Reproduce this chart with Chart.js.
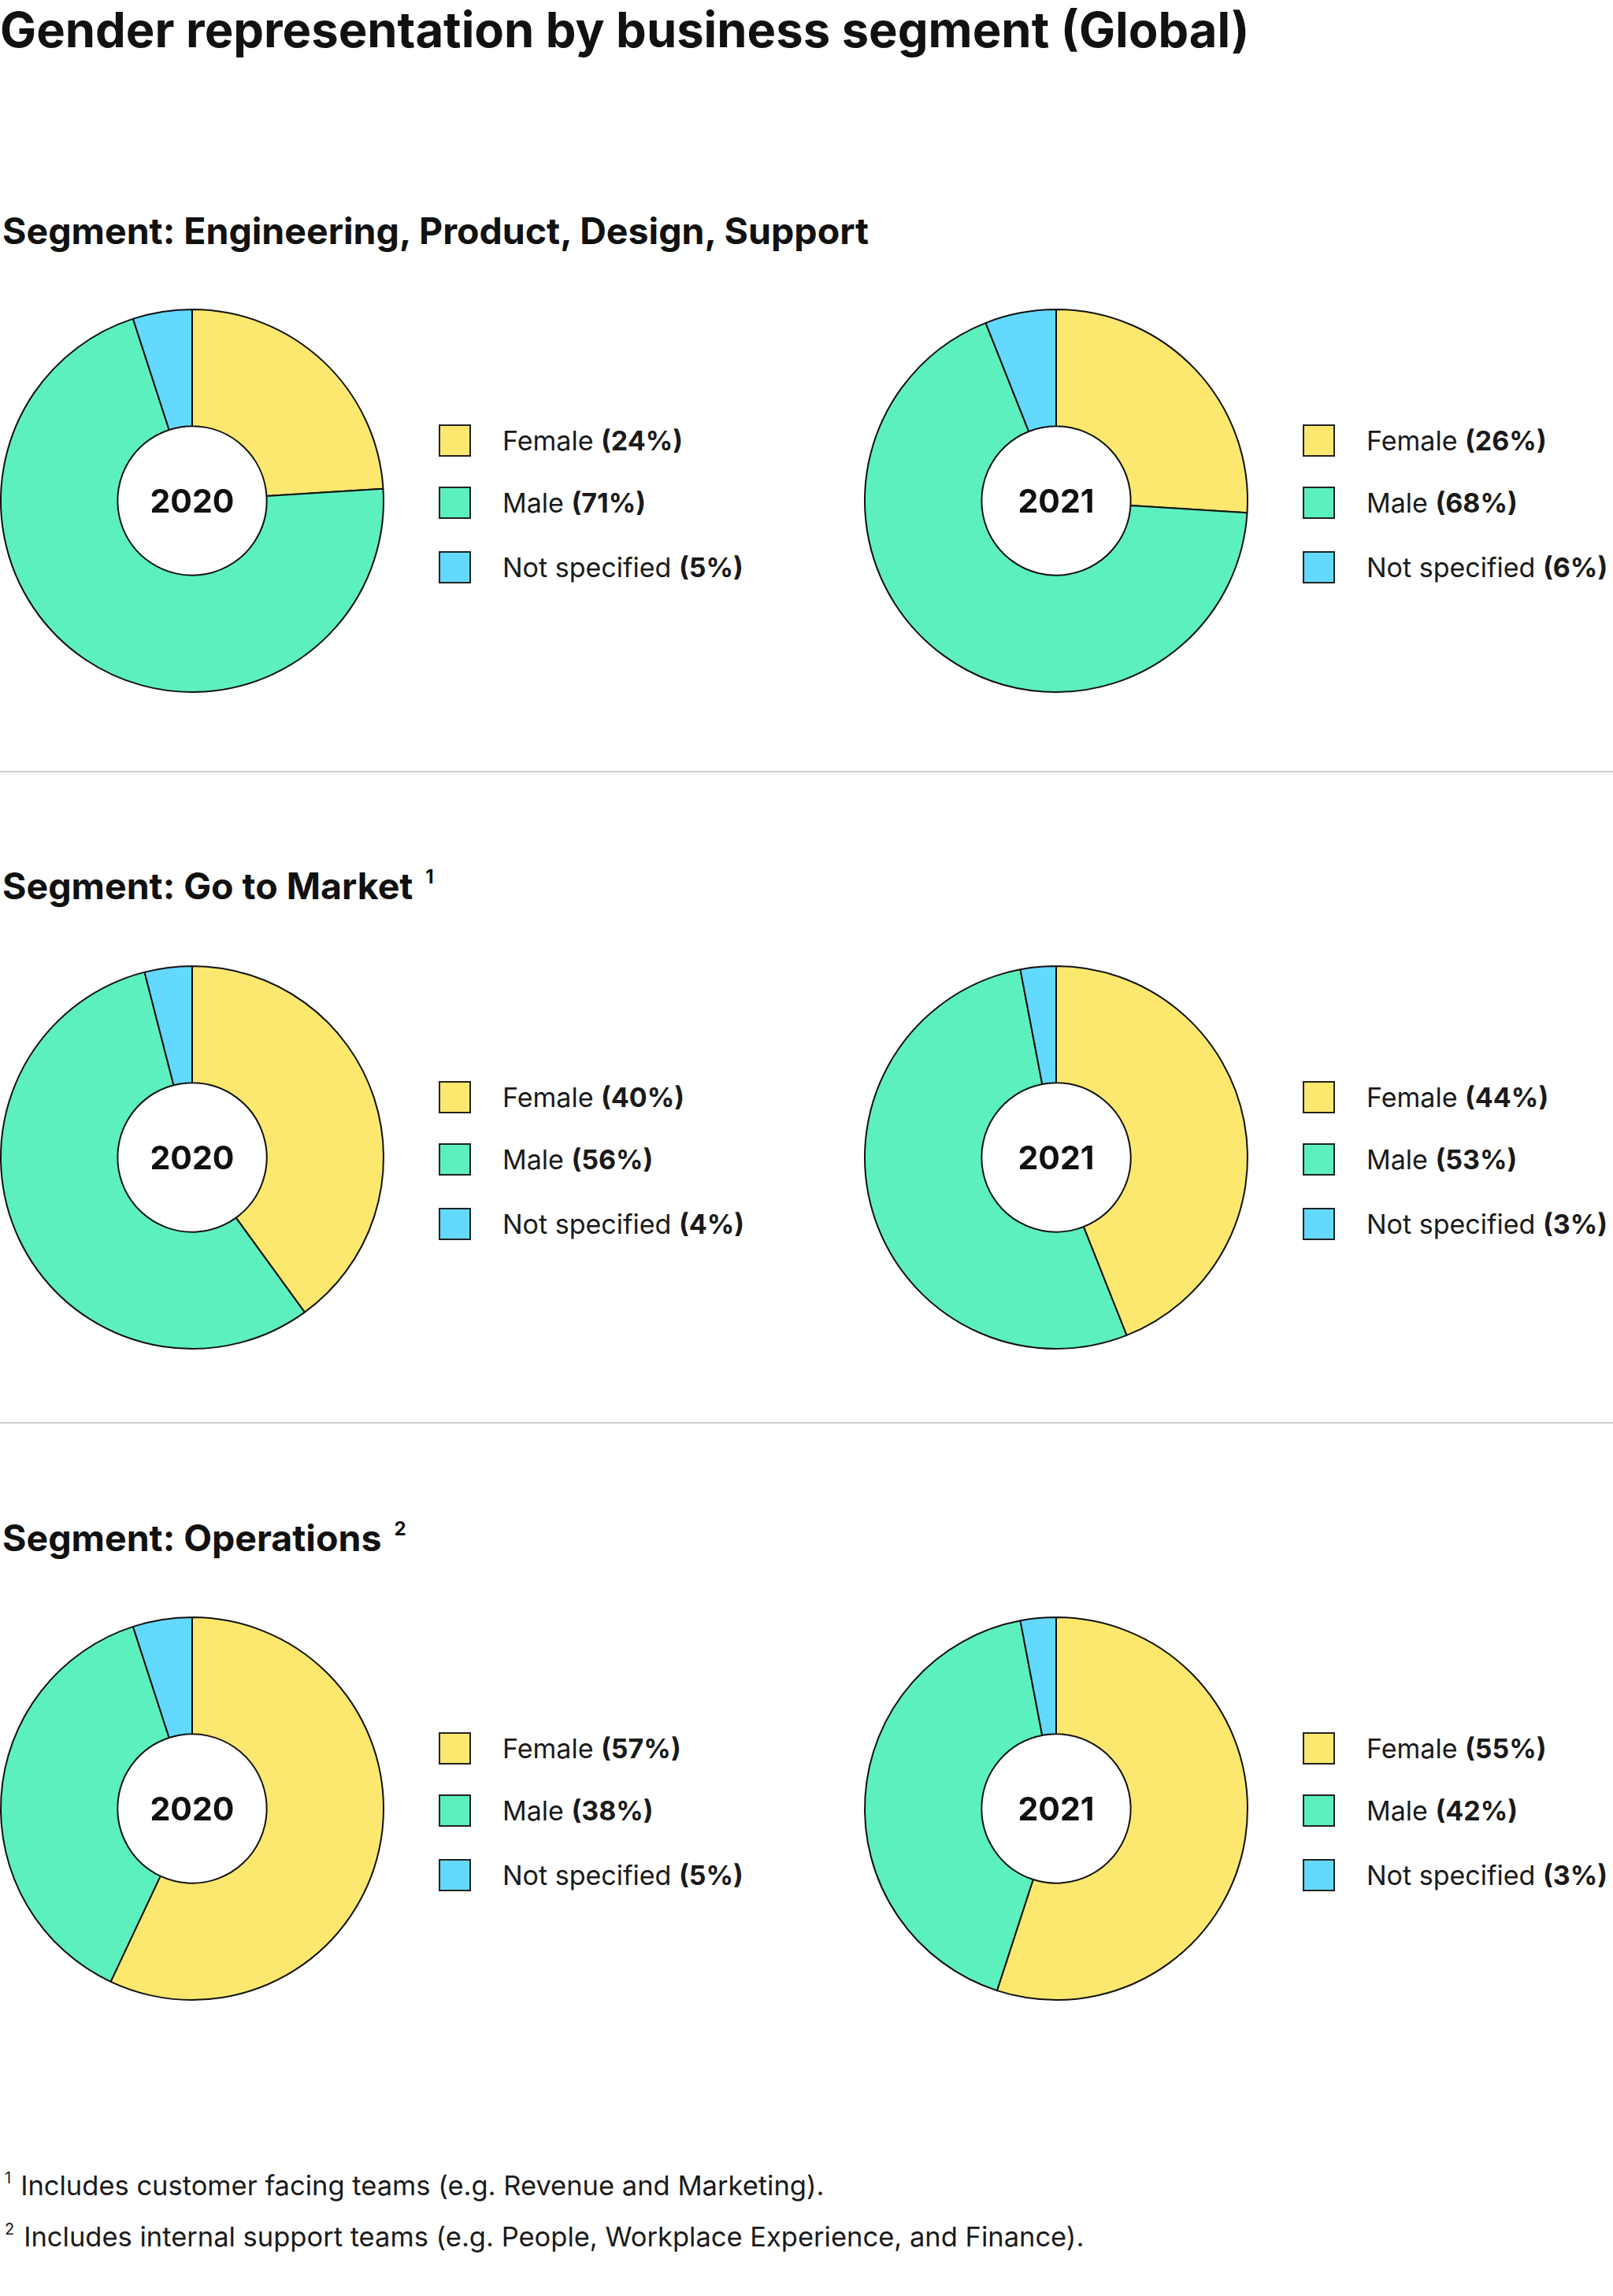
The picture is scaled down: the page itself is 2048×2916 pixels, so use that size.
<!DOCTYPE html>
<html>
<head>
<meta charset="utf-8">
<script src="https://cdn.jsdelivr.net/npm/chart.js@4.4.1/dist/chart.umd.min.js"></script>
<style>
  html, body { margin: 0; padding: 0; background: #fff; }
  body { width: 2048px; height: 2916px; position: relative; font-family: Inter, "Noto Sans", sans-serif; color: #111; overflow: hidden; }
  .abs { position: absolute; white-space: nowrap; line-height: 1; }
  .title { left: 0; font-size: 61.5px; font-weight: 700; }
  .seg { left: 3px; font-size: 46.5px; font-weight: 700; }
  .seg sup { font-size: 24px; vertical-align: 0; position: relative; top: -20px; margin-left: 16px; }
  .rule { position: absolute; left: 0; width: 2048px; height: 2px; background: #cfcfcf; }
  .box { position: absolute; width: 500px; height: 500px; }
  .legend { position: absolute; }
  .row { position: absolute; left: 0; display: flex; align-items: center; height: 41px; white-space: nowrap; font-size: 34px; line-height: 1; color: #1a1a1a; }
  .sw { width: 37px; height: 37px; border: 2px solid #222; margin-right: 40px; flex: none; }
  .row b { font-weight: 700; }
  .note { left: 6px; font-size: 34.5px; color: #1a1a1a; }
  .note sup { font-size: 20px; vertical-align: 0; position: relative; top: -15px; margin-right: 12px; }
</style>
</head>
<body>
<div class="abs title" style="top:7px">Gender representation by business segment (Global)</div>
<script>
// categories and colours
const categories = ['Female', 'Male', 'Not specified'];
const colors = ['#fde86f', '#5df0bf', '#64d9ff'];
const years = ['2020', '2021'];

// segments
const segments = ['Segment: Engineering, Product, Design, Support', 'Segment: Go to Market', 'Segment: Operations'];
const segNotes = ['', '1', '2'];

// values (%) per segment, [2020, 2021]
const eng2020 = [24, 71, 5];
const eng2021 = [26, 68, 6];
const gtm2020 = [40, 56, 4];
const gtm2021 = [44, 53, 3];
const ops2020 = [57, 38, 5];
const ops2021 = [55, 42, 3];
const values = [[eng2020, eng2021], [gtm2020, gtm2021], [ops2020, ops2021]];

const footnotes = [
  ['1', 'Includes customer facing teams (e.g. Revenue and Marketing).'],
  ['2', 'Includes internal support teams (e.g. People, Workplace Experience, and Finance).']
];

// layout
const headBase = [310, 1142, 1970];
const centerY = [636, 1470, 2297];
const centerX = [244, 1341];
const legendX = [557, 1654];
const ruleY = [980, 1807];
const noteBase = [2789, 2854];

// center text plugin
const centerText = {
  id: 'centerText',
  afterDraw(chart) {
    const arc = chart.getDatasetMeta(0).data[0];
    if (!arc) return;
    const ctx = chart.ctx;
    ctx.save();
    ctx.font = '700 41px Inter, sans-serif';
    ctx.fillStyle = '#111';
    ctx.textAlign = 'center';
    ctx.textBaseline = 'alphabetic';
    ctx.fillText(chart.options.plugins.centerText.text, arc.x, arc.y + 15);
    ctx.restore();
  }
};

ruleY.forEach(y => {
  const r = document.createElement('div');
  r.className = 'rule';
  r.style.top = (y - 1) + 'px';
  document.body.appendChild(r);
});

segments.forEach((name, s) => {
  const h = document.createElement('div');
  h.className = 'abs seg';
  h.style.top = (headBase[s] - 40) + 'px';
  h.textContent = name;
  if (segNotes[s]) {
    const sp = document.createElement('sup');
    sp.textContent = segNotes[s];
    h.appendChild(sp);
  }
  document.body.appendChild(h);

  years.forEach((yr, k) => {
    const data = values[s][k];
    const box = document.createElement('div');
    box.className = 'box';
    box.style.left = (centerX[k] - 250) + 'px';
    box.style.top = (centerY[s] - 250) + 'px';
    const cv = document.createElement('canvas');
    box.appendChild(cv);
    document.body.appendChild(box);

    new Chart(cv, {
      type: 'doughnut',
      data: {
        labels: categories,
        datasets: [{
          data: data,
          backgroundColor: colors,
          borderColor: '#111',
          borderWidth: 2,
          radius: 243,
          cutout: 97
        }]
      },
      options: {
        responsive: true,
        maintainAspectRatio: false,
        animation: false,
        layout: { padding: 0 },
        events: [],
        plugins: {
          legend: { display: false },
          tooltip: { enabled: false },
          centerText: { text: yr }
        }
      },
      plugins: [centerText]
    });

    // legend
    const lg = document.createElement('div');
    lg.className = 'legend';
    lg.style.left = legendX[k] + 'px';
    lg.style.top = centerY[s] + 'px';
    const offs = [-77, 2, 84];
    categories.forEach((c, i) => {
      const row = document.createElement('div');
      row.className = 'row';
      row.style.top = (offs[i] - 20) + 'px';
      const sw = document.createElement('span');
      sw.className = 'sw';
      sw.style.background = colors[i];
      row.appendChild(sw);
      const t = document.createElement('span');
      t.innerHTML = c + ' <b>(' + data[i] + '%)</b>';
      row.appendChild(t);
      lg.appendChild(row);
    });
    document.body.appendChild(lg);
  });
});

footnotes.forEach((f, i) => {
  const n = document.createElement('div');
  n.className = 'abs note';
  n.style.top = (noteBase[i] - 30) + 'px';
  n.innerHTML = '<sup>' + f[0] + '</sup>' + f[1];
  document.body.appendChild(n);
});
</script>
</body>
</html>
